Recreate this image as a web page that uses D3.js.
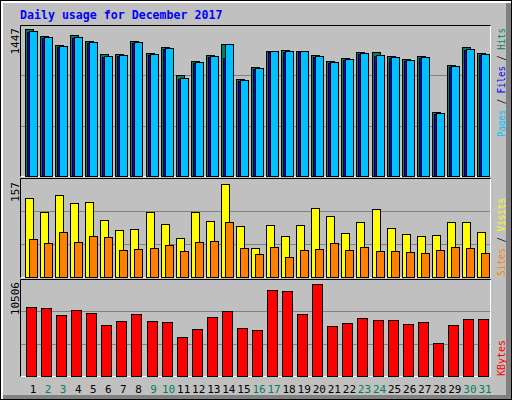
<!DOCTYPE html>
<html><head><meta charset="utf-8">
<script src="https://cdn.jsdelivr.net/npm/d3@7"></script>
<style>body{margin:0;background:#fff}text{font-family:"DejaVu Sans Mono",monospace}</style>
</head><body><svg width="512" height="400"></svg>
<script>
var days = d3.range(1, 32);
var weekend = [2, 3, 9, 10, 16, 17, 23, 24, 30, 31];
var hits  = [1447,1375,1286,1387,1325,1198,1198,1325,1207,1266,991,1129,1188,1296,952,1070,1227,1237,1227,1188,1129,1158,1217,1217,1178,1148,1178,627,1089,1266,1207];
var files = [1420,1360,1270,1360,1310,1170,1180,1310,1190,1250,955,1110,1170,1158,935,1050,1220,1220,1220,1170,1110,1140,1200,1180,1160,1130,1160,610,1070,1240,1190];
var pages = [1430,1365,1276,1365,1316,1178,1188,1316,1198,1257,961,1119,1178,1296,942,1060,1227,1227,1227,1178,1119,1148,1207,1188,1168,1139,1168,617,1079,1247,1198];
var visits = [133,110,138,125,127,96,79,81,110,89,66,110,94,157,86,49,88,69,88,116,103,74,93,115,83,72,69,71,93,93,76];
var sites  = [64,57,76,59,69,67,45,47,49,54,44,59,60,93,49,38,50,33,45,47,57,45,50,44,44,42,40,45,50,49,40];
var kbytes = [7845,7731,6932,7503,7160,5790,6247,7046,6247,6133,4420,5333,6704,7389,5447,5219,9787,9673,7046,10506,5676,6018,6589,6361,6361,5904,6133,3734,5790,6475,6475];

var svg = d3.select('svg');
// frame
svg.append('rect').attr('width', 512).attr('height', 400).attr('fill', '#000');
svg.append('rect').attr('x', 1).attr('y', 1).attr('width', 510).attr('height', 398).attr('fill', '#fff');
svg.append('rect').attr('x', 3).attr('y', 3).attr('width', 508).attr('height', 396).attr('fill', '#808080');
svg.append('rect').attr('x', 3).attr('y', 3).attr('width', 503).attr('height', 392).attr('fill', '#C0C0C0');

var x = d3.scaleLinear().domain([1, 31]).range([25, 477]);

function panel(y0, y1) {
    svg.append('rect').attr('x', 20).attr('y', y0).attr('width', 470).attr('height', y1 - y0)
        .attr('fill', '#C0C0C0').attr('stroke', 'none');
    svg.append('path').attr('d', 'M20.5,' + (y1 + .5) + 'V' + (y0 + .5) + 'H490.5').attr('stroke', '#000').attr('fill', 'none');
    svg.append('path').attr('d', 'M21,' + (y1 + .5) + 'H490.5V' + (y0 + 1)).attr('stroke', '#fff').attr('fill', 'none');
    [1, 2].forEach(k => {
        var gy = Math.round(y1 - (y1 - y0) * k / 3) + .5;
        svg.append('line').attr('x1', 21).attr('x2', 490).attr('y1', gy).attr('y2', gy).attr('stroke', '#808080');
    });
}

function bars(data, y, color, dx, w) {
    svg.append('g').selectAll('rect').data(data).enter().append('rect')
        .attr('x', (d, i) => Math.round(x(i + 1)) + dx + .5)
        .attr('y', d => Math.round(y(d)) + .5)
        .attr('width', w)
        .attr('height', d => y(0) - Math.round(y(d)))
        .attr('fill', color).attr('stroke', '#000');
}

function vlabel(txt, xx, yy) {
    svg.append('text').attr('transform', 'translate(' + xx + ',' + yy + ') rotate(-90)')
        .attr('text-anchor', 'end').attr('font-size', 11).text(txt);
}

// legend text reads bottom to top, fitted to a given length
function legend(parts, xx, yy, len) {
    var t = svg.append('text').attr('transform', 'translate(' + xx + ',' + yy + ') rotate(-90)')
        .attr('font-size', 10).attr('textLength', len).attr('lengthAdjust', 'spacingAndGlyphs');
    parts.forEach(p => t.append('tspan').attr('fill', p[1]).text(p[0]));
}

// top panel
panel(25, 176);
var yTop = d3.scaleLinear().domain([0, 1447]).range([176, 29]);
bars(hits, yTop, '#00805C', 0, 8);
bars(files, yTop, '#0000FF', 2, 8);
bars(pages, yTop, '#00C0FF', 4, 8);
vlabel('1447', 19, 28);
legend([['Pages', '#00C0FF'], ['/', '#000'], ['Files', '#0000FF'], ['/', '#000'], ['Hits', '#00805C']].map((p, i, a) => [p[0] === '/' ? ' / ' : p[0], p[1]]), 505, 137, 109);

// middle panel
panel(178, 277);
var yMid = d3.scaleLinear().domain([0, 157]).range([277, 184]);
bars(visits, yMid, '#FFFF00', 0, 8);
bars(sites, yMid, '#FF8000', 4, 8);
vlabel('157', 19, 182);
legend([['Sites', '#FF8000'], [' / ', '#000'], ['Visits', '#FFFF00']], 505, 276, 78);

// bottom panel
panel(279, 376);
var yBot = d3.scaleLinear().domain([0, 10506]).range([376, 284]);
bars(kbytes, yBot, '#FF0000', 1, 10);
vlabel('10506', 19, 282);
legend([['KBytes', '#FF0000']], 505, 376, 36);

// day labels
svg.append('g').selectAll('text').data(days).enter().append('text')
    .attr('x', d => x(d) + 8).attr('y', 393)
    .attr('text-anchor', 'middle').attr('font-size', 11)
    .attr('fill', d => weekend.includes(d) ? '#00805C' : '#000')
    .text(d => d);

svg.append('text').attr('x', 20).attr('y', 19).attr('fill', '#0000FF')
    .attr('font-size', 11.6).attr('font-weight', 'bold').text('Daily usage for December 2017');
</script></body></html>
